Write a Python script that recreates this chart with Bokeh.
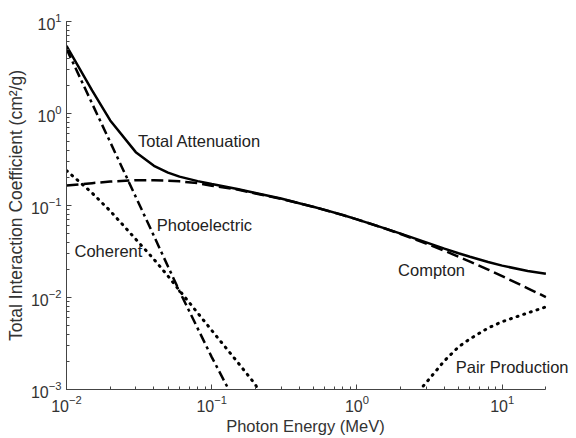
from bokeh.plotting import figure
from bokeh.embed import file_html
from bokeh.resources import INLINE
from bokeh.models import Label

# Energies (MeV) and coefficients (cm^2/g)
total_E = [0.01, 0.015, 0.02, 0.03, 0.04, 0.05, 0.06, 0.08, 0.1, 0.15, 0.2, 0.3, 0.4, 0.5,
           0.6, 0.8, 1.0, 1.5, 2.0, 3.0, 4.0, 5.0, 6.0, 8.0, 10.0, 15.0, 20.0]
total_mu = [5.45, 1.78, 0.84, 0.38, 0.27, 0.228, 0.206, 0.184, 0.171, 0.151, 0.137, 0.119, 0.106,
            0.0969, 0.0896, 0.0787, 0.0707, 0.0575, 0.0494, 0.0397, 0.0340, 0.0303, 0.0277,
            0.0243, 0.0222, 0.0194, 0.0181]

compton_E = [0.01, 0.015, 0.02, 0.03, 0.04, 0.05, 0.06, 0.08, 0.1, 0.15, 0.2, 0.3, 0.4, 0.5,
             0.6, 0.8, 1.0, 1.5, 2.0, 3.0, 4.0, 5.0, 6.0, 8.0, 10.0, 15.0, 20.0]
compton_mu = [0.165, 0.175, 0.182, 0.188, 0.188, 0.186, 0.183, 0.175, 0.164, 0.149, 0.135, 0.118,
              0.106, 0.0966, 0.0894, 0.0785, 0.0706, 0.0574, 0.0490, 0.0386, 0.0322, 0.0278,
              0.0246, 0.0201, 0.0171, 0.0126, 0.0101]

photo_E = [0.01, 0.015, 0.02, 0.03, 0.04, 0.05, 0.06, 0.08, 0.1, 0.13, 0.15]
photo_mu = [5.05, 1.285, 0.489, 0.124, 0.0467, 0.0217, 0.0117, 0.00462, 0.00225, 0.00102, 0.00063]

coherent_E = [0.01, 0.015, 0.02, 0.03, 0.04, 0.05, 0.06, 0.08, 0.1, 0.15, 0.2, 0.25]
coherent_mu = [0.24, 0.137, 0.0873, 0.043, 0.026, 0.0171, 0.0119, 0.0068, 0.00439, 0.0020,
               0.00113, 0.00058]

pair_E = [2.6, 2.73, 3.0, 4.0, 5.0, 6.0, 8.0, 10.0, 15.0, 20.0]
pair_mu = [0.0008, 0.001, 0.00119, 0.00205, 0.0029, 0.00355, 0.00466, 0.00546, 0.0068, 0.0079]

label_text = ["Total Attenuation", "Photoelectric", "Coherent", "Compton", "Pair Production"]
label_x = [0.0311, 0.0418, 0.01135, 1.92, 4.79]
label_y = [0.505, 0.0613, 0.0319, 0.0198, 0.00174]

# axis extent (the data frame is widened to the window edge so the last label is not cut)
x_start, x_stop = 0.01, 20
x_view_end = 32.5

FONT = "Liberation Sans"

p = figure(width=576, height=438, x_axis_type="log", y_axis_type="log",
           x_range=(x_start, x_view_end), y_range=(0.001, 10),
           output_backend="svg", toolbar_location=None,
           min_border_left=66, min_border_right=0, min_border_top=21, min_border_bottom=49)
p.outline_line_color = None
p.grid.visible = False
p.background_fill_color = "white"
p.border_fill_color = "white"
p.xaxis.bounds = (x_start, x_stop)

p.line(total_E, total_mu, line_color="black", line_width=2.5)
p.line(compton_E, compton_mu, line_color="black", line_width=2.5, line_dash="12 5")
p.line(photo_E, photo_mu, line_color="black", line_width=2.5, line_dash="10 4 3 4")
p.line(coherent_E, coherent_mu, line_color="black", line_width=3, line_dash="1 6",
       line_cap="round")
p.line(pair_E, pair_mu, line_color="black", line_width=3, line_dash="1 6", line_cap="round")

for t, lx, ly in zip(label_text, label_x, label_y):
    p.add_layout(Label(x=lx, y=ly, text=t, text_font=FONT, text_font_size="16.5px",
                       text_color="#222222", text_align="left", text_baseline="middle"))

for ax in (p.xaxis, p.yaxis):
    ax.major_tick_in = 5
    ax.major_tick_out = 0
    ax.minor_tick_in = 3
    ax.minor_tick_out = 0
    ax.axis_line_color = "#444444"
    ax.major_tick_line_color = "#444444"
    ax.minor_tick_line_color = "#444444"
    ax.major_label_text_font = FONT
    ax.major_label_text_font_size = "16px"
    ax.major_label_text_color = "#333333"
    ax.axis_label_text_font = FONT
    ax.axis_label_text_font_style = "normal"
    ax.axis_label_text_color = "#333333"
    ax.major_label_standoff = 5
    ax.axis_label_standoff = 2

p.xaxis.axis_label_text_font_size = "16.5px"
p.yaxis.axis_label_text_font_size = "17.5px"
# trailing no-break spaces re-centre the label under the drawn axis (which ends at 20 MeV)
p.xaxis.axis_label = "Photon Energy (MeV)" + "\u00a0" * 7
p.yaxis.axis_label = "Total Interaction Coefficient (cm²/g)"

open("out.html", "w").write(file_html(p, INLINE))
